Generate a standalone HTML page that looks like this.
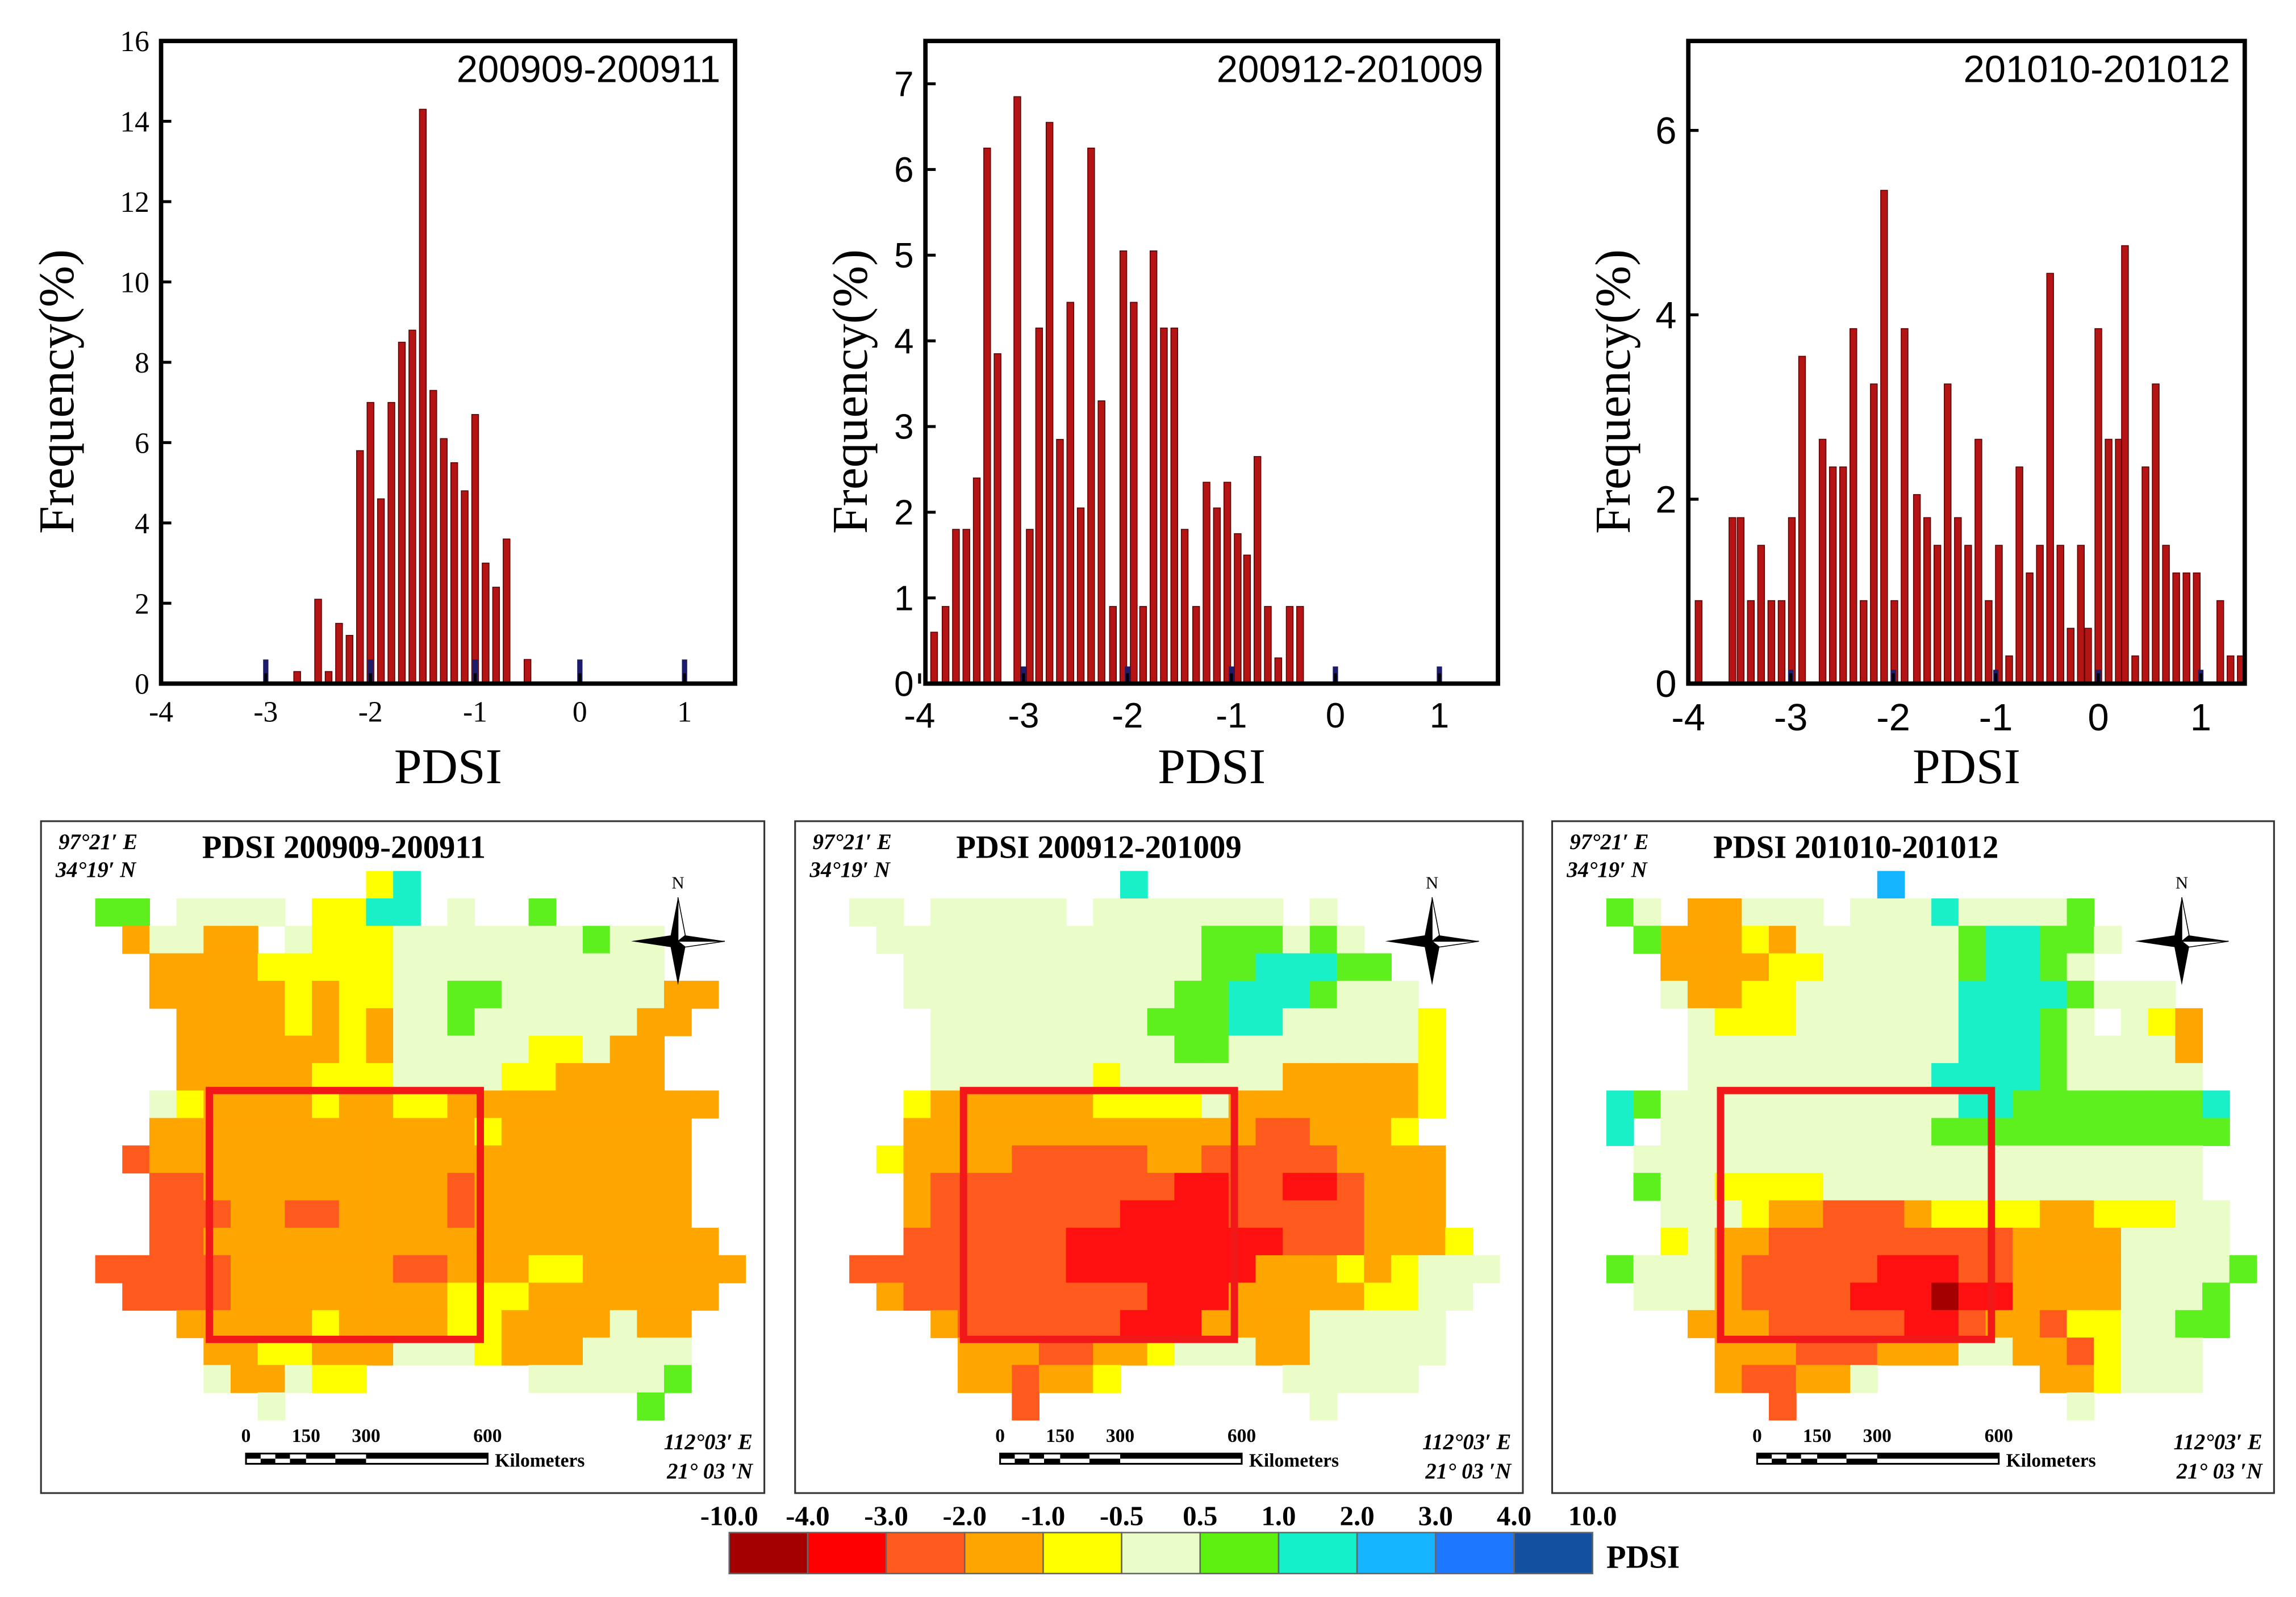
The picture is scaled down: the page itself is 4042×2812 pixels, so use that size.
<!DOCTYPE html>
<html><head><meta charset="utf-8"><style>
html,body{margin:0;padding:0;background:#fff}
svg{display:block}
</style></head><body>
<svg id="root" xmlns="http://www.w3.org/2000/svg" width="4042" height="2812" viewBox="0 0 1568 1091" preserveAspectRatio="none">
<rect width="1568" height="1091" fill="#fff"/>
<g id="charts"></g>
<g id="maps"></g>
<g id="legend"></g>
</svg>
<script>
// ---------- histogram data ----------
const h1x = [-2.7,-2.5,-2.4,-2.3,-2.2,-2.1,-2.0,-1.9,-1.8,-1.7,-1.6,-1.5,-1.4,-1.3,-1.2,-1.1,-1.0,-0.9,-0.8,-0.7,-0.5];
const h1y = [0.3,2.1,0.3,1.5,1.2,5.8,7.0,4.6,7.0,8.5,8.8,14.3,7.3,6.1,5.5,4.8,6.7,3.0,2.4,3.6,0.6];
const h2x = [-3.86,-3.75,-3.65,-3.55,-3.45,-3.35,-3.25,-3.06,-2.94,-2.85,-2.75,-2.65,-2.55,-2.45,-2.35,-2.25,-2.14,-2.04,-1.94,-1.85,-1.75,-1.65,-1.55,-1.45,-1.34,-1.24,-1.14,-1.04,-0.94,-0.85,-0.75,-0.65,-0.55,-0.44,-0.34];
const h2y = [0.6,0.9,1.8,1.8,2.4,6.25,3.85,6.85,1.8,4.15,6.55,2.85,4.45,2.05,6.25,3.3,0.9,5.05,4.45,0.9,5.05,4.15,4.15,1.8,0.9,2.35,2.05,2.35,1.75,1.5,2.65,0.9,0.3,0.9,0.9];
const h3x = [-3.9,-3.57,-3.49,-3.39,-3.29,-3.19,-3.09,-2.99,-2.89,-2.69,-2.59,-2.49,-2.39,-2.29,-2.19,-2.09,-1.99,-1.89,-1.77,-1.67,-1.57,-1.47,-1.37,-1.27,-1.17,-1.07,-0.97,-0.87,-0.77,-0.67,-0.57,-0.47,-0.37,-0.27,-0.17,-0.1,0.0,0.1,0.2,0.26,0.36,0.46,0.56,0.66,0.76,0.86,0.96,1.19,1.29,1.39];
const h3y = [0.9,1.8,1.8,0.9,1.5,0.9,0.9,1.8,3.55,2.65,2.35,2.35,3.85,0.9,3.25,5.35,0.9,3.85,2.05,1.8,1.5,3.25,1.8,1.5,2.65,0.9,1.5,0.3,2.35,1.2,1.5,4.45,1.5,0.6,1.5,0.6,3.85,2.65,2.65,4.75,0.3,2.35,3.25,1.5,1.2,1.2,1.2,0.9,0.3,0.3];
const blueX1 = [-3,-2,-1,0,1];
const blueY1 = [0.6,0.6,0.6,0.6,0.6];
const blueX2 = [-3,-2,-1,0,1];
const blueY2 = [0.2,0.2,0.2,0.2,0.2];
const blueX3 = [-3,-2,-1,0,1];
const blueY3 = [0.15,0.15,0.15,0.15,0.15];
const titles = ["200909-200911","200912-201009","201010-201012"];
const yt1 = [0,2,4,6,8,10,12,14,16];
const yt2 = [0,1,2,3,4,5,6,7];
const yt3 = [0,2,4,6];
const xt = [-4,-3,-2,-1,0,1];

const NS="http://www.w3.org/2000/svg";
function el(tag,attrs,parent,text){const e=document.createElementNS(NS,tag);for(const k in attrs)e.setAttribute(k,attrs[k]);if(text!==undefined)e.textContent=text;parent.appendChild(e);return e;}

const charts = [
 {L:110,R:502,T:28,B:467,xa:110,k:71.5,ymax:16,xs:h1x,ys:h1y,bx:blueX1,by:blueY1,yt:yt1,tfs:20,tfam:"Liberation Serif",ylx:40},
 {L:632,R:1023,T:28,B:467,xa:628,k:71,ymax:7.5,xs:h2x,ys:h2y,bx:blueX2,by:blueY2,yt:yt2,tfs:24,tfam:"Liberation Sans",ylx:582},
 {L:1153,R:1533,T:28,B:467,xa:1153,k:70,ymax:6.97,xs:h3x,ys:h3y,bx:blueX3,by:blueY3,yt:yt3,tfs:26,tfam:"Liberation Sans",ylx:1103}
];
const cg=document.getElementById('charts');
charts.forEach((c,i)=>{
  const g=el('g',{},cg);
  
  
  const X=v=>c.xa+(v+4)*c.k;
  const Y=v=>c.B-v*(c.B-c.T)/c.ymax;
  c.xs.forEach((v,j)=>{
    const h=c.B-Y(c.ys[j]);
    const b=el('rect',{x:X(v)-2.3,y:Y(c.ys[j]),width:4.6,height:h,fill:'#b41414',stroke:'#5a0000','stroke-width':0.6},g);
    
    
  });
  c.bx.forEach((v,j)=>{
    const b=el('rect',{x:X(v)-1.8,y:Y(c.by[j]),width:3.6,height:c.B-Y(c.by[j]),fill:'#1c1c6a'},g);
    
    
  });
  const fr=el('rect',{x:c.L,y:c.T,width:c.R-c.L,height:c.B-c.T,fill:'none',stroke:'#000','stroke-width':3},g);
  
  
  c.yt.forEach(v=>{
    el('line',{x1:c.L,x2:c.L+7,y1:Y(v),y2:Y(v),stroke:'#000','stroke-width':2},g);
    const t=el('text',{x:c.L-8,y:Y(v)+c.tfs*0.35,'text-anchor':'end','font-family':c.tfam+', sans-serif','font-size':c.tfs},g,String(v));
    
    
  });
  xt.forEach(v=>{
    const xx=X(v); if(xx>c.R) return;
    el('line',{x1:xx,x2:xx,y1:c.B,y2:c.B-7,stroke:'#000','stroke-width':2},g);
    const t=el('text',{x:xx,y:c.B+c.tfs+6,'text-anchor':'middle','font-family':c.tfam+', sans-serif','font-size':c.tfs},g,String(v));
    
    
  });
  const xl=el('text',{x:(c.L+c.R)/2,y:535,'text-anchor':'middle','font-family':'Liberation Serif, serif','font-size':34},g,'PDSI');
  
  
  const yl=el('text',{x:0,y:0,'text-anchor':'middle','font-family':'Liberation Serif, serif','font-size':34,transform:`translate(${c.ylx+10},${(c.T+c.B)/2+20}) rotate(-90)`},g,'Frequency(%)');
  
  
  const tt=el('text',{x:c.R-10,y:56,'text-anchor':'end','font-family':'Liberation Sans, sans-serif','font-size':26},g,titles[i]);
  
  
});

// ---------- map grids ----------
const colors={a:'#eafcc8',y:'#ffff00',o:'#ffa500',r:'#ff5a1e',R:'#ff1010',D:'#a50000',g:'#5ef01e',c:'#19f0c8',b:'#14b4ff'};
const map1=[
"..........yc............",
"gg.aaaa.yycc.a..g.......",
".oaaoo.ayyyaaaaaaagaa...",
"..ooooyyyyyaaaaaaaaaa...",
"..oooooyoyyaaggaaaaaaoo.",
"...ooooyoyoaagaaaaaaoo..",
"...ooooooyoaaaaayyaoo...",
"...oooooyyyaaaayyoooo...",
"..ayooooyooyyoooooooooo.",
"..ooooooooooooyooooooo..",
".roooooooooooooooooooo..",
"..rroooooooooroooooooo..",
"..rrroorrooooroooooooo..",
"..rrooooooooooooooooooo.",
"rrrrroooooorroooyyoooooo",
".rrrrooooooooyyyooooooo.",
"...oooooyooooyyooooaoo..",
"....ooyyoooaaayoooaaaa..",
"....aooayy......aaaaag..",
"......a.............g..."];
const map2=[
"..........c.............",
"aa.aaaaa.aaaaaaa.a......",
".aaaaaaaaaaaagggaga.....",
"..aaaaaaaaaaaggcccgg....",
"..aaaaaaaaaaggcccgaaa...",
"...aaaaaaaagggccaaaaay..",
"...aaaaaaaaaggaaaaaaay..",
"...aaaaaayaaaaaaoooooy..",
"..yooooooyyyyaoooooooy..",
"..ooooooooooooorroooy...",
".yoooorrrrroorrrrroooo..",
"..orrrrrrrrrRRrrRRrooo..",
"..orrrrrrrRRRRrrrrrooo..",
"..rrrrrrRRRRRRRRrrroooy.",
"rrrrrrrrRRRRRRRoooyoyaaa",
".orrrrrrrrrRRRoooooyyaa.",
"...orrrrrrRRRooooaaaaa..",
"....ooorrooyaaaooaaaaa..",
"....oorooy......aaaaa...",
"......r..........a......"];
const map3=[
"..........b.............",
"ga.ooaaa.aaacaaaag......",
".goooyoaaaaaagccgga.....",
"..ooooyyaaaaagccga......",
"..aooyyaaaaaaccccgaaa...",
"...ayyyaaaaaacccga.ayo..",
"...aaaaaaaaaacccgaaaao..",
"...aaaaaaaaaccccgaaaaa..",
"cgaaaaaaaaaaaccgggggggc.",
"c.aaaaaaaaaaggggggggggg.",
".aaaaaaaaaaaaaaaaaaaaa..",
".gaayyyyaaaaaaaaaaaaaa..",
"..aaayoorrroyyyyooyyyaa.",
"..yaoorrrrrrrrrooooaaaa.",
"gaaaorrrrrRRRrrooooaaaag",
".aaaorrrrRRRDRRooooaaag.",
"...ooorrrrrRRrooryyaagg.",
"....ooorrroooaaooryaaa..",
"....orrooa......ooyaaa..",
"......r..........a......"];
const mapTitles=["PDSI 200909-200911","PDSI 200912-201009","PDSI 201010-201012"];
const grids=[map1,map2,map3];
const panels=[28,543,1060];
const mg=document.getElementById('maps');
panels.forEach((px,i)=>{
  const g=el('g',{},mg);
  
  
  const pw=(i==0?494:(i==1?497:493));
  const fr=el('rect',{x:px,y:561,width:pw,height:459,fill:'#fff',stroke:'#333','stroke-width':1.2},g);
  
  
  const ox=px+37, oy=595, cw=18.5, ch=18.75;
  grids[i].forEach((row,r)=>{
    for(let c=0;c<row.length;c++){
      const k=row[c]; if(k==='.') continue;
      const cell=el('rect',{x:ox+c*cw,y:oy+r*ch,width:cw+0.4,height:ch+0.4,fill:colors[k]},g);
      
      
    }
  });
  const bx=ox+(px==28?106:114)-(px==28?0:0);
  const box=el('rect',{x:px+115,y:745,width:185,height:170,fill:'none',stroke:'#f01818','stroke-width':5},g);
  
  
  const t=el('text',{x:px+110,y:586,'font-family':'Liberation Serif, serif','font-size':22,'font-weight':'bold'},g,mapTitles[i]);
  
  
  const c1=el('text',{x:px+12,y:580,'font-family':'Liberation Serif, serif','font-size':15,'font-weight':'bold','font-style':'italic'},g,"97°21′ E");
  
  
  const c2=el('text',{x:px+10,y:599,'font-family':'Liberation Serif, serif','font-size':15,'font-weight':'bold','font-style':'italic'},g,"34°19′ N");
  
  
  const c3=el('text',{x:px+pw-8,y:990,'text-anchor':'end','font-family':'Liberation Serif, serif','font-size':15,'font-weight':'bold','font-style':'italic'},g,"112°03′ E");
  
  
  const c4=el('text',{x:px+pw-8,y:1010,'text-anchor':'end','font-family':'Liberation Serif, serif','font-size':15,'font-weight':'bold','font-style':'italic'},g,"21°  03 ′N");
  
  
  // north arrow
  const nx=px+(i==2?430:435), ny=643;
  const na=el('g',{},g);
  
  
  el('polygon',{points:`${nx},${ny-30} ${nx+5},${ny-4} ${nx+32},${ny} ${nx+5},${ny+4} ${nx},${ny+30} ${nx-5},${ny+4} ${nx-32},${ny} ${nx-5},${ny-4}`,fill:'#000'},na);
  el('polygon',{points:`${nx},${ny-30} ${nx+5},${ny-4} ${nx},${ny}`,fill:'#fff',stroke:'#000','stroke-width':0.6},na);
  el('polygon',{points:`${nx+32},${ny} ${nx+5},${ny+4} ${nx},${ny}`,fill:'#fff',stroke:'#000','stroke-width':0.6},na);
  el('text',{x:nx,y:ny-36,'text-anchor':'middle','font-family':'Liberation Serif, serif','font-size':12},na,'N');
  // scale bar
  const sx=px+140, sy=993;
  const sb=el('g',{},g);
  
  
  el('rect',{x:sx,y:sy,width:165,height:7,fill:'#fff',stroke:'#000','stroke-width':1.2},sb);
  [[0,10],[20,10],[41,20],[82,83]].forEach(s=>el('rect',{x:sx+s[0],y:sy+(s[0]%2?0:0),width:s[1],height:3.5,fill:'#000'},sb));
  [[10,10],[30,11],[61,21]].forEach(s=>el('rect',{x:sx+s[0],y:sy+3.5,width:s[1],height:3.5,fill:'#000'},sb));
  [['0',0],['150',41],['300',82],['600',165]].forEach(s=>el('text',{x:sx+s[1],y:sy-8,'text-anchor':'middle','font-family':'Liberation Serif, serif','font-size':13,'font-weight':'bold'},sb,s[0]));
  el('text',{x:sx+170,y:sy+9,'font-family':'Liberation Serif, serif','font-size':13,'font-weight':'bold'},sb,'Kilometers');
});

// ---------- colorbar ----------
const cbColors=['#a50000','#ff0000','#ff5a1e','#ffa500','#ffff00','#eafcc8','#5ef00f','#14f0c8','#14b4ff','#1e78ff','#1450a0'];
const cbLabels=['-10.0','-4.0','-3.0','-2.0','-1.0','-0.5','0.5','1.0','2.0','3.0','4.0','10.0'];
const lg=document.getElementById('legend');


const cbx=498, cbw=53.6;
cbColors.forEach((c,i)=>{
  const r=el('rect',{x:cbx+i*cbw,y:1047,width:cbw,height:28,fill:c,stroke:'#666','stroke-width':1},lg);
  
  
});
cbLabels.forEach((l,i)=>{
  const t=el('text',{x:cbx+i*cbw,y:1042,'text-anchor':'middle','font-family':'Liberation Serif, serif','font-size':19,'font-weight':'bold'},lg,l);
  
  
});
const pl=el('text',{x:1097,y:1071,'font-family':'Liberation Serif, serif','font-size':22,'font-weight':'bold'},lg,'PDSI');


</script>
</body></html>
